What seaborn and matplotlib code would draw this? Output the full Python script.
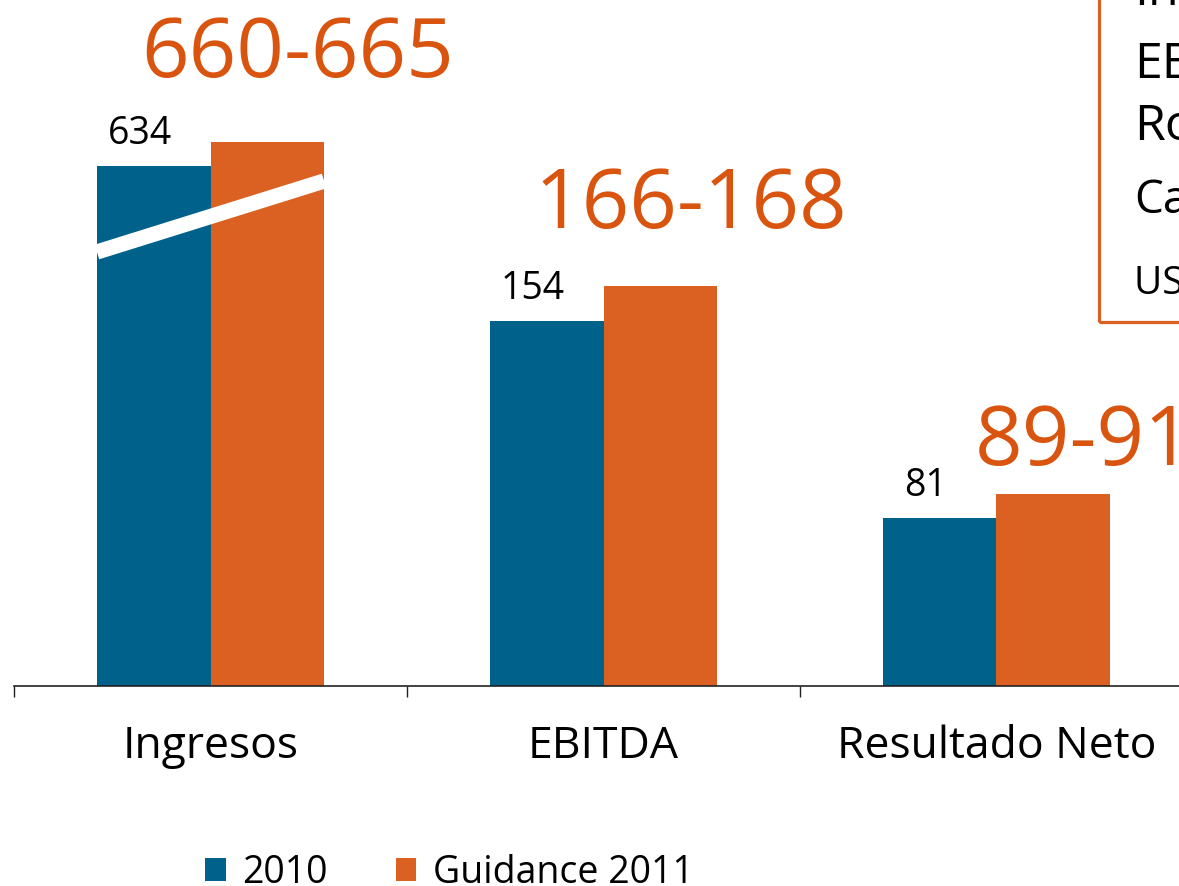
import numpy as np
import pandas as pd
import matplotlib
matplotlib.use("Agg")
import matplotlib.pyplot as plt
import matplotlib.transforms as mtransforms
from matplotlib.patches import Rectangle
import seaborn as sns

# ---------------- data ----------------
categorias = ["Ingresos", "EBITDA", "Resultado Neto"]
series = ["2010", "Guidance 2011"]
valores_2010 = [634, 154, 81]
guidance_2011 = [662.5, 167, 90]          # midpoint of the guidance range
rango_guidance = ["660-665", "166-168", "89-91"]
etiquetas_2010 = ["634", "154", "81"]
caja_textos = ["Ingresos", "EBITDA", "Rotación", "Capex", "US$ millones"]

# ---------------- style ----------------
AZUL = "#00628B"
NARANJA = "#DB6122"
NARANJA_TXT = "#D9540E"
FONT = "Open Sans"

sns.set_theme(style="white")
plt.rcParams["font.family"] = [FONT, "DejaVu Sans"]
plt.rcParams["text.color"] = "black"
plt.rcParams["xtick.color"] = "black"

W, H = 1179, 886
fig = plt.figure(figsize=(W / 100, H / 100), dpi=100)
ax = fig.add_axes([14 / W, 200 / H, 1179 / W, 686 / H])

df = pd.DataFrame({
    "categoria": categorias * 2,
    "serie": [series[0]] * 3 + [series[1]] * 3,
    "valor": valores_2010 + guidance_2011,
})

BAR_W = 0.289
sns.barplot(data=df, x="categoria", y="valor", hue="serie", order=categorias,
            hue_order=series, palette=[AZUL, NARANJA], saturation=1,
            width=2 * BAR_W, ax=ax, linewidth=0, edgecolor="none")

# broken-axis scale: linear below T, nearly collapsed gap, compressed above U
T, U, EPS, C = 200.0, 600.0, 0.0025, 0.312
F_T = T
F_U = T + (U - T) * EPS


def fwd(v):
    v = np.asarray(v, dtype=float)
    return np.where(v <= T, v,
                    np.where(v <= U, T + (v - T) * EPS, F_U + (v - U) * C))


def inv(f):
    f = np.asarray(f, dtype=float)
    return np.where(f <= F_T, f,
                    np.where(f <= F_U, T + (f - F_T) / EPS, U + (f - F_U) / C))


ax.set_yscale("function", functions=(fwd, inv))
ax.set_ylim(18.8, 831.4)
ax.set_xlim(-0.5, 2.5)

# legend handles then remove axes legend
handles, labels = ax.get_legend_handles_labels()
if ax.get_legend() is not None:
    ax.get_legend().remove()

# axes cosmetics
for s in ["left", "right", "top"]:
    ax.spines[s].set_visible(False)
ax.spines["bottom"].set_color("#222222")
ax.spines["bottom"].set_linewidth(1.2)
ax.set_yticks([])
ax.set_ylabel("")
ax.set_xlabel("")
ax.set_xticks([-0.5, 0.5, 1.5, 2.5])
ax.set_xticklabels([])
ax.tick_params(axis="x", which="major", length=8, width=1, color="#222222",
               direction="out", bottom=True)
ax.set_xticks([0, 1, 2], minor=True)
ax.set_xticklabels(categorias, minor=True, fontsize=32, color="black")
ax.tick_params(axis="x", which="minor", length=0, pad=28)
ax.grid(False)
ax.patch.set_alpha(0)

# break mark across the Ingresos bars
blend = mtransforms.blended_transform_factory(ax.transData, ax.transAxes)
ax.plot([-BAR_W, BAR_W], [434 / 686, 505 / 686], color="white", lw=11,
        solid_capstyle="butt", transform=blend, zorder=5)

# labels of 2010 bars
for i, (v, t) in enumerate(zip(valores_2010, etiquetas_2010)):
    ax.annotate(t, xy=(i - BAR_W / 2, v), xytext=(-10, 16), textcoords="offset points",
                ha="center", va="baseline", fontsize=27, color="black", zorder=6)

# guidance ranges
off_y = [47, 42, 21]
for i, (v, t) in enumerate(zip(guidance_2011, rango_guidance)):
    ax.annotate(t, xy=(i + BAR_W / 2, v), xytext=(22, off_y[i]), textcoords="offset points",
                ha="center", va="baseline", fontsize=60, color=NARANJA_TXT, zorder=6,
                annotation_clip=False)

# legend
leg = fig.legend(handles, labels, loc="center left", bbox_to_anchor=(205 / W, 1 - 873 / H),
                 ncol=2, frameon=False, fontsize=27, handlelength=0.55, handleheight=0.55,
                 handletextpad=0.45, columnspacing=1.8, borderpad=0, borderaxespad=0)
for txt in leg.get_texts():
    txt.set_color("black")

# boxed note at top right (cropped in the original)
box = Rectangle((1099 / W, 1 - 322 / H), 0.2, 0.5, transform=fig.transFigure,
                fill=False, edgecolor=NARANJA, linewidth=2.3, clip_on=False)
fig.add_artist(box)
base_y = [5, 78, 140, 213, 293]
tam = [36, 36, 36, 33, 28]
for t, yb, s in zip(caja_textos, base_y, tam):
    fig.text(1134 / W, 1 - yb / H, t, ha="left", va="baseline", fontsize=s, color="black")

fig.savefig("out.png", dpi=100)
